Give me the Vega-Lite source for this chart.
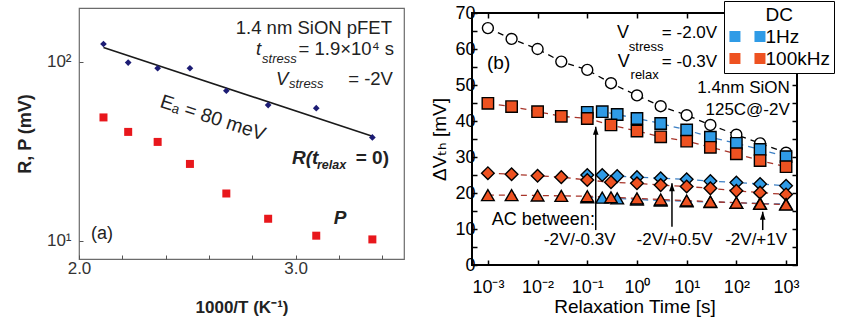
{
  "$schema": "https://vega.github.io/schema/vega-lite/v6.json",
  "background": "white",
  "padding": {"left": 15, "top": 0, "right": 0, "bottom": 0},
  "spacing": 24,
  "config": {
    "font": "Liberation Sans, Arial, sans-serif",
    "axis": {"grid": false, "domain": false, "labelOverlap": false, "labelFlush": false},
    "legend": {"symbolStrokeColor": "black", "symbolStrokeWidth": 1.4},
    "view": {"stroke": null}
  },
  "datasets": {
    "arrhenius": [
      {"invT": 2.113, "mV": 125.6, "kind": "R"},
      {"invT": 2.227, "mV": 99.0, "kind": "R"},
      {"invT": 2.363, "mV": 92.0, "kind": "R"},
      {"invT": 2.512, "mV": 92.0, "kind": "R"},
      {"invT": 2.680, "mV": 68.9, "kind": "R"},
      {"invT": 2.873, "mV": 57.3, "kind": "R"},
      {"invT": 3.095, "mV": 55.1, "kind": "R"},
      {"invT": 3.354, "mV": 37.8, "kind": "R"},
      {"invT": 2.113, "mV": 48.9, "kind": "P"},
      {"invT": 2.227, "mV": 40.6, "kind": "P"},
      {"invT": 2.363, "mV": 35.7, "kind": "P"},
      {"invT": 2.512, "mV": 26.9, "kind": "P"},
      {"invT": 2.680, "mV": 18.4, "kind": "P"},
      {"invT": 2.873, "mV": 13.3, "kind": "P"},
      {"invT": 3.095, "mV": 10.7, "kind": "P"},
      {"invT": 3.354, "mV": 10.2, "kind": "P"}
    ],
    "fit": [
      {"invT": 2.113, "mV": 120.0},
      {"invT": 3.354, "mV": 38.4}
    ],
    "relax": [
      {"t": 0.001, "dvth": 65.8, "freq": "DC", "cond": "DC"},
      {"t": 0.003, "dvth": 62.8, "freq": "DC", "cond": "DC"},
      {"t": 0.01, "dvth": 60.0, "freq": "DC", "cond": "DC"},
      {"t": 0.03, "dvth": 56.5, "freq": "DC", "cond": "DC"},
      {"t": 0.1, "dvth": 54.2, "freq": "DC", "cond": "DC"},
      {"t": 0.3, "dvth": 50.5, "freq": "DC", "cond": "DC"},
      {"t": 1, "dvth": 47.1, "freq": "DC", "cond": "DC"},
      {"t": 3, "dvth": 44.1, "freq": "DC", "cond": "DC"},
      {"t": 10, "dvth": 41.6, "freq": "DC", "cond": "DC"},
      {"t": 30, "dvth": 38.9, "freq": "DC", "cond": "DC"},
      {"t": 100, "dvth": 36.2, "freq": "DC", "cond": "DC"},
      {"t": 300, "dvth": 33.8, "freq": "DC", "cond": "DC"},
      {"t": 1000, "dvth": 31.2, "freq": "DC", "cond": "DC"},

      {"t": 0.1, "dvth": 42.4, "freq": "1Hz", "cond": "-2V/-0.3V"},
      {"t": 0.2, "dvth": 42.6, "freq": "1Hz", "cond": "-2V/-0.3V"},
      {"t": 0.4, "dvth": 41.8, "freq": "1Hz", "cond": "-2V/-0.3V"},
      {"t": 1, "dvth": 40.7, "freq": "1Hz", "cond": "-2V/-0.3V"},
      {"t": 3, "dvth": 39.3, "freq": "1Hz", "cond": "-2V/-0.3V"},
      {"t": 10, "dvth": 37.5, "freq": "1Hz", "cond": "-2V/-0.3V"},
      {"t": 30, "dvth": 35.5, "freq": "1Hz", "cond": "-2V/-0.3V"},
      {"t": 100, "dvth": 33.8, "freq": "1Hz", "cond": "-2V/-0.3V"},
      {"t": 300, "dvth": 32.1, "freq": "1Hz", "cond": "-2V/-0.3V"},
      {"t": 1000, "dvth": 30.1, "freq": "1Hz", "cond": "-2V/-0.3V"},
      {"t": 0.1, "dvth": 25.0, "freq": "1Hz", "cond": "-2V/+0.5V"},
      {"t": 0.2, "dvth": 25.0, "freq": "1Hz", "cond": "-2V/+0.5V"},
      {"t": 0.4, "dvth": 24.7, "freq": "1Hz", "cond": "-2V/+0.5V"},
      {"t": 1, "dvth": 24.4, "freq": "1Hz", "cond": "-2V/+0.5V"},
      {"t": 3, "dvth": 24.1, "freq": "1Hz", "cond": "-2V/+0.5V"},
      {"t": 10, "dvth": 23.8, "freq": "1Hz", "cond": "-2V/+0.5V"},
      {"t": 30, "dvth": 23.3, "freq": "1Hz", "cond": "-2V/+0.5V"},
      {"t": 100, "dvth": 22.9, "freq": "1Hz", "cond": "-2V/+0.5V"},
      {"t": 300, "dvth": 22.5, "freq": "1Hz", "cond": "-2V/+0.5V"},
      {"t": 1000, "dvth": 22.0, "freq": "1Hz", "cond": "-2V/+0.5V"},
      {"t": 0.1, "dvth": 18.8, "freq": "1Hz", "cond": "-2V/+1V"},
      {"t": 0.2, "dvth": 18.7, "freq": "1Hz", "cond": "-2V/+1V"},
      {"t": 0.4, "dvth": 18.5, "freq": "1Hz", "cond": "-2V/+1V"},
      {"t": 1, "dvth": 18.2, "freq": "1Hz", "cond": "-2V/+1V"},
      {"t": 3, "dvth": 17.9, "freq": "1Hz", "cond": "-2V/+1V"},
      {"t": 10, "dvth": 17.7, "freq": "1Hz", "cond": "-2V/+1V"},
      {"t": 30, "dvth": 17.5, "freq": "1Hz", "cond": "-2V/+1V"},
      {"t": 100, "dvth": 17.3, "freq": "1Hz", "cond": "-2V/+1V"},
      {"t": 300, "dvth": 17.1, "freq": "1Hz", "cond": "-2V/+1V"},
      {"t": 1000, "dvth": 16.9, "freq": "1Hz", "cond": "-2V/+1V"},

      {"t": 0.001, "dvth": 44.9, "freq": "100kHz", "cond": "-2V/-0.3V"},
      {"t": 0.003, "dvth": 44.0, "freq": "100kHz", "cond": "-2V/-0.3V"},
      {"t": 0.01, "dvth": 42.6, "freq": "100kHz", "cond": "-2V/-0.3V"},
      {"t": 0.03, "dvth": 41.3, "freq": "100kHz", "cond": "-2V/-0.3V"},
      {"t": 0.1, "dvth": 40.7, "freq": "100kHz", "cond": "-2V/-0.3V"},
      {"t": 0.3, "dvth": 38.9, "freq": "100kHz", "cond": "-2V/-0.3V"},
      {"t": 1, "dvth": 37.2, "freq": "100kHz", "cond": "-2V/-0.3V"},
      {"t": 3, "dvth": 35.6, "freq": "100kHz", "cond": "-2V/-0.3V"},
      {"t": 10, "dvth": 34.4, "freq": "100kHz", "cond": "-2V/-0.3V"},
      {"t": 30, "dvth": 32.7, "freq": "100kHz", "cond": "-2V/-0.3V"},
      {"t": 100, "dvth": 30.9, "freq": "100kHz", "cond": "-2V/-0.3V"},
      {"t": 300, "dvth": 29.0, "freq": "100kHz", "cond": "-2V/-0.3V"},
      {"t": 1000, "dvth": 27.3, "freq": "100kHz", "cond": "-2V/-0.3V"},
      {"t": 0.001, "dvth": 25.5, "freq": "100kHz", "cond": "-2V/+0.5V"},
      {"t": 0.003, "dvth": 25.2, "freq": "100kHz", "cond": "-2V/+0.5V"},
      {"t": 0.01, "dvth": 24.8, "freq": "100kHz", "cond": "-2V/+0.5V"},
      {"t": 0.03, "dvth": 24.4, "freq": "100kHz", "cond": "-2V/+0.5V"},
      {"t": 0.1, "dvth": 23.6, "freq": "100kHz", "cond": "-2V/+0.5V"},
      {"t": 0.3, "dvth": 23.0, "freq": "100kHz", "cond": "-2V/+0.5V"},
      {"t": 1, "dvth": 22.7, "freq": "100kHz", "cond": "-2V/+0.5V"},
      {"t": 3, "dvth": 22.2, "freq": "100kHz", "cond": "-2V/+0.5V"},
      {"t": 10, "dvth": 21.8, "freq": "100kHz", "cond": "-2V/+0.5V"},
      {"t": 30, "dvth": 21.3, "freq": "100kHz", "cond": "-2V/+0.5V"},
      {"t": 100, "dvth": 20.6, "freq": "100kHz", "cond": "-2V/+0.5V"},
      {"t": 300, "dvth": 20.1, "freq": "100kHz", "cond": "-2V/+0.5V"},
      {"t": 1000, "dvth": 19.6, "freq": "100kHz", "cond": "-2V/+0.5V"},
      {"t": 0.001, "dvth": 19.4, "freq": "100kHz", "cond": "-2V/+1V"},
      {"t": 0.003, "dvth": 19.4, "freq": "100kHz", "cond": "-2V/+1V"},
      {"t": 0.01, "dvth": 19.3, "freq": "100kHz", "cond": "-2V/+1V"},
      {"t": 0.03, "dvth": 19.2, "freq": "100kHz", "cond": "-2V/+1V"},
      {"t": 0.1, "dvth": 19.1, "freq": "100kHz", "cond": "-2V/+1V"},
      {"t": 0.3, "dvth": 18.8, "freq": "100kHz", "cond": "-2V/+1V"},
      {"t": 1, "dvth": 18.5, "freq": "100kHz", "cond": "-2V/+1V"},
      {"t": 3, "dvth": 18.2, "freq": "100kHz", "cond": "-2V/+1V"},
      {"t": 10, "dvth": 17.9, "freq": "100kHz", "cond": "-2V/+1V"},
      {"t": 30, "dvth": 17.6, "freq": "100kHz", "cond": "-2V/+1V"},
      {"t": 100, "dvth": 17.3, "freq": "100kHz", "cond": "-2V/+1V"},
      {"t": 300, "dvth": 17.0, "freq": "100kHz", "cond": "-2V/+1V"},
      {"t": 1000, "dvth": 16.8, "freq": "100kHz", "cond": "-2V/+1V"}
    ],
    "arrows": [
      {"t": 0.148, "lo": 9.7, "hi": 38.4},
      {"t": 5.06, "lo": 10.6, "hi": 22.7},
      {"t": 339, "lo": 9.7, "hi": 14.8}
    ]
  },
  "hconcat": [
    {
      "width": 325,
      "height": 251,
      "view": {"stroke": "#6b6b6b", "strokeWidth": 1.2},
      "layer": [
        {
          "data": {"name": "fit"},
          "mark": {"type": "line", "color": "#1a1a1a", "strokeWidth": 1.6},
          "encoding": {
            "x": {
              "field": "invT", "type": "quantitative",
              "scale": {"domain": [2, 3.5], "nice": false, "zero": false},
              "axis": {
                "values": [2.0, 2.1, 2.2, 2.3, 2.4, 2.5, 2.6, 2.7, 2.8, 2.9, 3.0, 3.1, 3.2, 3.3, 3.4, 3.5],
                "labelExpr": "abs(datum.value * 2 - round(datum.value * 2)) < 0.001 ? format(datum.value, '.1f') : ''",
                "labelOverlap": false, "labelFlush": false,
                "tickSize": -4, "tickColor": "#555", "tickWidth": 1,
                "labelFontSize": 17, "labelColor": "#333", "labelPadding": 5,
                "title": "1000/T (K⁻¹)", "titleFontSize": 17, "titleFontWeight": "bold", "titleColor": "#222", "titlePadding": 23
              }
            },
            "y": {
              "field": "mV", "type": "quantitative",
              "scale": {"type": "log", "domain": [7.93, 199.5], "nice": false},
              "axis": {
                "values": [10, 100],
                "labelExpr": "datum.value == 100 ? '10²' : '10¹'",
                "labelOverlap": false, "labelFlush": false,
                "tickSize": -4, "tickColor": "#555",
                "labelFontSize": 17, "labelColor": "#333", "labelPadding": 12,
                "title": "R, P  (mV)", "titleFontSize": 18, "titleFontWeight": "bold", "titleColor": "#222", "titlePadding": 12
              }
            }
          }
        },
        {
          "data": {"name": "arrhenius"},
          "transform": [{"filter": "datum.kind == 'R'"}],
          "mark": {"type": "point", "shape": "diamond", "filled": true, "color": "#1c1c74", "size": 45, "opacity": 1},
          "encoding": {
            "x": {"field": "invT", "type": "quantitative"},
            "y": {"field": "mV", "type": "quantitative"}
          }
        },
        {
          "data": {"name": "arrhenius"},
          "transform": [{"filter": "datum.kind == 'P'"}],
          "mark": {"type": "point", "shape": "square", "filled": true, "color": "#e8171c", "size": 64, "opacity": 1},
          "encoding": {
            "x": {"field": "invT", "type": "quantitative"},
            "y": {"field": "mV", "type": "quantitative"}
          }
        },
        {
          "data": {"values": [{}]},
          "mark": {"type": "text", "text": "1.4 nm SiON pFET", "align": "right", "baseline": "middle", "fontSize": 18.5, "color": "#222"},
          "encoding": {"x": {"datum": 3.4446, "type": "quantitative"}, "y": {"datum": 154.7, "type": "quantitative"}}
        },
        {
          "data": {"values": [{}]},
          "mark": {"type": "text", "text": "t", "align": "left", "baseline": "middle", "fontSize": 18.5, "fontStyle": "italic", "color": "#222"},
          "encoding": {"x": {"datum": 2.817, "type": "quantitative"}, "y": {"datum": 117.7, "type": "quantitative"}}
        },
        {
          "data": {"values": [{}]},
          "mark": {"type": "text", "text": "stress", "align": "left", "baseline": "middle", "fontSize": 13, "fontStyle": "italic", "color": "#222"},
          "encoding": {"x": {"datum": 2.845, "type": "quantitative"}, "y": {"datum": 103.5, "type": "quantitative"}}
        },
        {
          "data": {"values": [{}]},
          "mark": {"type": "text", "text": "= 1.9×10⁴ s", "align": "right", "baseline": "middle", "fontSize": 18.5, "color": "#222"},
          "encoding": {"x": {"datum": 3.4538, "type": "quantitative"}, "y": {"datum": 117.7, "type": "quantitative"}}
        },
        {
          "data": {"values": [{}]},
          "mark": {"type": "text", "text": "V", "align": "left", "baseline": "middle", "fontSize": 18.5, "fontStyle": "italic", "color": "#222"},
          "encoding": {"x": {"datum": 2.909, "type": "quantitative"}, "y": {"datum": 79.8, "type": "quantitative"}}
        },
        {
          "data": {"values": [{}]},
          "mark": {"type": "text", "text": "stress", "align": "left", "baseline": "middle", "fontSize": 13, "fontStyle": "italic", "color": "#222"},
          "encoding": {"x": {"datum": 2.969, "type": "quantitative"}, "y": {"datum": 74.8, "type": "quantitative"}}
        },
        {
          "data": {"values": [{}]},
          "mark": {"type": "text", "text": "=  -2V", "align": "right", "baseline": "middle", "fontSize": 18.5, "color": "#222"},
          "encoding": {"x": {"datum": 3.449, "type": "quantitative"}, "y": {"datum": 79.8, "type": "quantitative"}}
        },
        {
          "data": {"values": [{}]},
          "mark": {"type": "text", "text": "Eₐ = 80 meV", "align": "center", "baseline": "middle", "fontSize": 19.5, "angle": 18, "color": "#222"},
          "encoding": {"x": {"datum": 2.618, "type": "quantitative"}, "y": {"datum": 48.5, "type": "quantitative"}}
        },
        {
          "data": {"values": [{}]},
          "mark": {"type": "text", "text": "R(t", "align": "left", "baseline": "middle", "fontSize": 19, "fontStyle": "italic", "fontWeight": "bold", "color": "#222"},
          "encoding": {"x": {"datum": 2.983, "type": "quantitative"}, "y": {"datum": 29.0, "type": "quantitative"}}
        },
        {
          "data": {"values": [{}]},
          "mark": {"type": "text", "text": "relax", "align": "left", "baseline": "middle", "fontSize": 12.5, "fontStyle": "italic", "fontWeight": "bold", "color": "#222"},
          "encoding": {"x": {"datum": 3.098, "type": "quantitative"}, "y": {"datum": 26.5, "type": "quantitative"}}
        },
        {
          "data": {"values": [{}]},
          "mark": {"type": "text", "text": "= 0)", "align": "right", "baseline": "middle", "fontSize": 19, "fontWeight": "bold", "color": "#222"},
          "encoding": {"x": {"datum": 3.4308, "type": "quantitative"}, "y": {"datum": 29.0, "type": "quantitative"}}
        },
        {
          "data": {"values": [{}]},
          "mark": {"type": "text", "text": "P", "align": "center", "baseline": "middle", "fontSize": 19, "fontStyle": "italic", "fontWeight": "bold", "color": "#222"},
          "encoding": {"x": {"datum": 3.2046, "type": "quantitative"}, "y": {"datum": 13.4, "type": "quantitative"}}
        },
        {
          "data": {"values": [{}]},
          "mark": {"type": "text", "text": "(a)", "align": "left", "baseline": "middle", "fontSize": 18, "color": "#222"},
          "encoding": {"x": {"datum": 2.055, "type": "quantitative"}, "y": {"datum": 10.9, "type": "quantitative"}}
        }
      ]
    },
    {
      "spacing": -6,
      "vconcat": [
        {
          "width": 325,
          "height": 1,
          "data": {"values": []},
          "mark": {"type": "point"}
        },
        {
          "width": 325,
          "height": 252,
          "view": {"stroke": "black", "strokeWidth": 2},
          "resolve": {"axis": {"x": "independent", "y": "independent"}},
          "layer": [
            {
              "data": {"name": "relax"},
              "mark": {"type": "line", "strokeDash": [6, 5], "strokeWidth": 1.3},
              "encoding": {
                "x": {
                  "field": "t", "type": "quantitative",
                  "scale": {"type": "log", "domain": [0.000479, 1660], "nice": false},
                  "axis": {
                    "orient": "bottom",
                    "values": [0.001, 0.01, 0.1, 1, 10, 100, 1000],
                    "labelExpr": "'10' + ['⁻³', '⁻²', '⁻¹', '⁰', '¹', '²', '³'][round(log(datum.value) / LN10) + 3]",
                    "tickSize": -5, "tickWidth": 1.5, "tickColor": "black",
                    "labelFontSize": 18, "labelColor": "black", "labelPadding": 18,
                    "title": "Relaxation Time  [s]", "titleFontSize": 19, "titleFontWeight": "normal", "titleColor": "black", "titlePadding": 1
                  }
                },
                "y": {
                  "field": "dvth", "type": "quantitative",
                  "scale": {"domain": [0, 70], "nice": false, "zero": false},
                  "axis": {
                    "orient": "left",
                    "values": [0, 5, 10, 15, 20, 25, 30, 35, 40, 45, 50, 55, 60, 65, 70],
                    "labelExpr": "datum.value % 10 == 0 ? datum.label : ''",
                    "tickSize": -5, "tickWidth": 1.5, "tickColor": "black",
                    "labelFontSize": 18, "labelColor": "black", "labelPadding": 2,
                    "title": "ΔVₜₕ  [mV]", "titleFont": "Liberation Sans, DejaVu Sans, sans-serif", "titleFontSize": 19, "titleFontWeight": "normal", "titleColor": "black", "titlePadding": 5
                  }
                },
                "stroke": {
                  "field": "freq", "type": "nominal",
                  "scale": {"domain": ["1Hz", "100kHz", "DC"], "range": ["#3b7fc4", "#a8352a", "black"]},
                  "legend": null
                },
                "detail": {"field": "cond"}
              }
            },
            {
              "data": {"name": "relax"},
              "transform": [{"filter": "datum.cond == 'DC' || datum.cond == '-2V/-0.3V'"}],
              "mark": {"type": "point", "opacity": 0, "filled": false, "strokeWidth": 1.4},
              "encoding": {
                "x": {"field": "t", "type": "quantitative", "axis": null},
                "y": {"field": "dvth", "type": "quantitative", "axis": null},
                "stroke": {"value": "black"},
                "fill": {
                  "field": "freq", "type": "nominal",
                  "scale": {"domain": ["DC", "1Hz", "100kHz"], "range": ["white", "#2f9be6", "#ee5221"]},
                  "legend": {
                    "title": null, "orient": "none", "legendX": 645, "legendY": -7,
                    "fillColor": "white", "strokeColor": "black", "padding": 4,
                    "symbolSize": 121, "symbolStrokeColor": "black", "symbolStrokeWidth": 1.4, "symbolOpacity": 1, "symbolOffset": 25.5,
                    "labelFontSize": 19, "labelColor": "black", "labelOffset": -7, "rowPadding": 2
                  }
                },
                "shape": {
                  "field": "freq", "type": "nominal",
                  "scale": {
                    "domain": ["DC", "1Hz", "100kHz"],
                    "range": [
                      "M-4.1,0A1,1,0,1,1,-6.1,0A1,1,0,1,1,-4.1,0Z M-3.45,0H-2.35 M0.45,0A1,1,0,1,1,-1.55,0A1,1,0,1,1,0.45,0Z",
                      "M-6.1,-1H-4.1V1H-6.1Z M-3.45,0H-2.35 M-1.55,-1H0.45V1H-1.55Z",
                      "M-6.1,-1H-4.1V1H-6.1Z M-3.45,0H-2.35 M-1.55,-1H0.45V1H-1.55Z"
                    ]
                  },
                  "legend": {
                    "title": null, "orient": "none", "legendX": 645, "legendY": -7,
                    "fillColor": "white", "strokeColor": "black", "padding": 4,
                    "symbolSize": 121, "symbolStrokeColor": "black", "symbolStrokeWidth": 1.4, "symbolOpacity": 1, "symbolOffset": 25.5,
                    "labelFontSize": 19, "labelColor": "black", "labelOffset": -7, "rowPadding": 2
                  }
                }
              }
            },
            {
              "data": {"name": "relax"},
              "transform": [{"filter": "datum.freq == 'DC'"}],
              "mark": {"type": "point", "shape": "circle", "fill": "white", "stroke": "black", "strokeWidth": 1.4, "size": 120, "opacity": 1},
              "encoding": {
                "x": {"field": "t", "type": "quantitative", "axis": null},
                "y": {"field": "dvth", "type": "quantitative", "axis": null}
              }
            },
            {
              "data": {"name": "relax"},
              "transform": [{"filter": "datum.cond == '-2V/-0.3V'"}],
              "mark": {"type": "point", "shape": "square", "filled": true, "stroke": "black", "strokeWidth": 1.4, "size": 130, "opacity": 1},
              "encoding": {
                "x": {"field": "t", "type": "quantitative", "axis": null},
                "y": {"field": "dvth", "type": "quantitative", "axis": null},
                "color": {"field": "freq", "type": "nominal", "scale": {"domain": ["1Hz", "100kHz"], "range": ["#2f9be6", "#ee5221"]}, "legend": null}
              }
            },
            {
              "data": {"name": "relax"},
              "transform": [{"filter": "datum.cond == '-2V/+0.5V'"}],
              "mark": {"type": "point", "shape": "diamond", "filled": true, "stroke": "black", "strokeWidth": 1.4, "size": 160, "opacity": 1},
              "encoding": {
                "x": {"field": "t", "type": "quantitative", "axis": null},
                "y": {"field": "dvth", "type": "quantitative", "axis": null},
                "color": {"field": "freq", "type": "nominal", "legend": null}
              }
            },
            {
              "data": {"name": "relax"},
              "transform": [{"filter": "datum.cond == '-2V/+1V'"}],
              "mark": {"type": "point", "shape": "triangle-up", "filled": true, "stroke": "black", "strokeWidth": 1.4, "size": 160, "opacity": 1},
              "encoding": {
                "x": {"field": "t", "type": "quantitative", "axis": null},
                "y": {"field": "dvth", "type": "quantitative", "axis": null},
                "color": {"field": "freq", "type": "nominal", "legend": null}
              }
            },
            {
              "data": {"name": "arrows"},
              "mark": {"type": "rule", "color": "black", "strokeWidth": 1.5},
              "encoding": {
                "x": {
                  "field": "t", "type": "quantitative",
                  "axis": {"orient": "top", "values": [0.001, 0.01, 0.1, 1, 10, 100, 1000], "labels": false, "title": null, "tickSize": -5, "tickWidth": 1.5, "tickColor": "black"}
                },
                "y": {
                  "field": "lo", "type": "quantitative",
                  "axis": {"orient": "right", "values": [0, 5, 10, 15, 20, 25, 30, 35, 40, 45, 50, 55, 60, 65, 70], "labels": false, "title": null, "tickSize": -5, "tickWidth": 1.5, "tickColor": "black"}
                },
                "y2": {"field": "hi"}
              }
            },
            {
              "data": {"name": "arrows"},
              "mark": {"type": "point", "shape": "M0,0L0.7,2L-0.7,2Z", "filled": true, "color": "black", "size": 64, "opacity": 1},
              "encoding": {
                "x": {"field": "t", "type": "quantitative", "axis": null},
                "y": {"field": "hi", "type": "quantitative", "axis": null}
              }
            },
            {
              "data": {"values": [{}]},
              "mark": {"type": "text", "text": "(b)", "align": "left", "baseline": "middle", "fontSize": 19, "color": "black"},
              "encoding": {"x": {"datum": 0.00096, "type": "quantitative", "axis": null}, "y": {"datum": 56.1, "type": "quantitative", "axis": null}}
            },
            {
              "data": {"values": [{}]},
              "mark": {"type": "text", "text": "V", "align": "left", "baseline": "middle", "fontSize": 18, "color": "black"},
              "encoding": {"x": {"datum": 0.398, "type": "quantitative", "axis": null}, "y": {"datum": 64.4, "type": "quantitative", "axis": null}}
            },
            {
              "data": {"values": [{}]},
              "mark": {"type": "text", "text": "stress", "align": "left", "baseline": "middle", "fontSize": 13, "color": "black"},
              "encoding": {"x": {"datum": 0.687, "type": "quantitative", "axis": null}, "y": {"datum": 60.6, "type": "quantitative", "axis": null}}
            },
            {
              "data": {"values": [{}]},
              "mark": {"type": "text", "text": "= -2.0V", "align": "left", "baseline": "middle", "fontSize": 17, "color": "black"},
              "encoding": {"x": {"datum": 3.17, "type": "quantitative", "axis": null}, "y": {"datum": 64.4, "type": "quantitative", "axis": null}}
            },
            {
              "data": {"values": [{}]},
              "mark": {"type": "text", "text": "V", "align": "left", "baseline": "middle", "fontSize": 18, "color": "black"},
              "encoding": {"x": {"datum": 0.41, "type": "quantitative", "axis": null}, "y": {"datum": 56.5, "type": "quantitative", "axis": null}}
            },
            {
              "data": {"values": [{}]},
              "mark": {"type": "text", "text": "relax", "align": "left", "baseline": "middle", "fontSize": 13, "color": "black"},
              "encoding": {"x": {"datum": 0.743, "type": "quantitative", "axis": null}, "y": {"datum": 52.8, "type": "quantitative", "axis": null}}
            },
            {
              "data": {"values": [{}]},
              "mark": {"type": "text", "text": "= -0.3V", "align": "left", "baseline": "middle", "fontSize": 17, "color": "black"},
              "encoding": {"x": {"datum": 3.17, "type": "quantitative", "axis": null}, "y": {"datum": 56.5, "type": "quantitative", "axis": null}}
            },
            {
              "data": {"values": [{}]},
              "mark": {"type": "text", "text": "1.4nm SiON", "align": "right", "baseline": "middle", "fontSize": 17, "color": "black"},
              "encoding": {"x": {"datum": 1191, "type": "quantitative", "axis": null}, "y": {"datum": 49.1, "type": "quantitative", "axis": null}}
            },
            {
              "data": {"values": [{}]},
              "mark": {"type": "text", "text": "125C@-2V", "align": "right", "baseline": "middle", "fontSize": 17, "color": "black"},
              "encoding": {"x": {"datum": 1191, "type": "quantitative", "axis": null}, "y": {"datum": 43.1, "type": "quantitative", "axis": null}}
            },
            {
              "data": {"values": [{}]},
              "mark": {"type": "text", "text": "AC between:", "align": "left", "baseline": "middle", "fontSize": 18, "color": "black"},
              "encoding": {"x": {"datum": 0.0012, "type": "quantitative", "axis": null}, "y": {"datum": 12.5, "type": "quantitative", "axis": null}}
            },
            {
              "data": {"values": [{}]},
              "mark": {"type": "text", "text": "-2V/-0.3V", "align": "center", "baseline": "middle", "fontSize": 17, "color": "black"},
              "encoding": {"x": {"datum": 0.0703, "type": "quantitative", "axis": null}, "y": {"datum": 6.9, "type": "quantitative", "axis": null}}
            },
            {
              "data": {"values": [{}]},
              "mark": {"type": "text", "text": "-2V/+0.5V", "align": "center", "baseline": "middle", "fontSize": 17, "color": "black"},
              "encoding": {"x": {"datum": 5.71, "type": "quantitative", "axis": null}, "y": {"datum": 6.9, "type": "quantitative", "axis": null}}
            },
            {
              "data": {"values": [{}]},
              "mark": {"type": "text", "text": "-2V/+1V", "align": "center", "baseline": "middle", "fontSize": 17, "color": "black"},
              "encoding": {"x": {"datum": 250, "type": "quantitative", "axis": null}, "y": {"datum": 6.9, "type": "quantitative", "axis": null}}
            }
          ]
        }
      ]
    }
  ]
}
